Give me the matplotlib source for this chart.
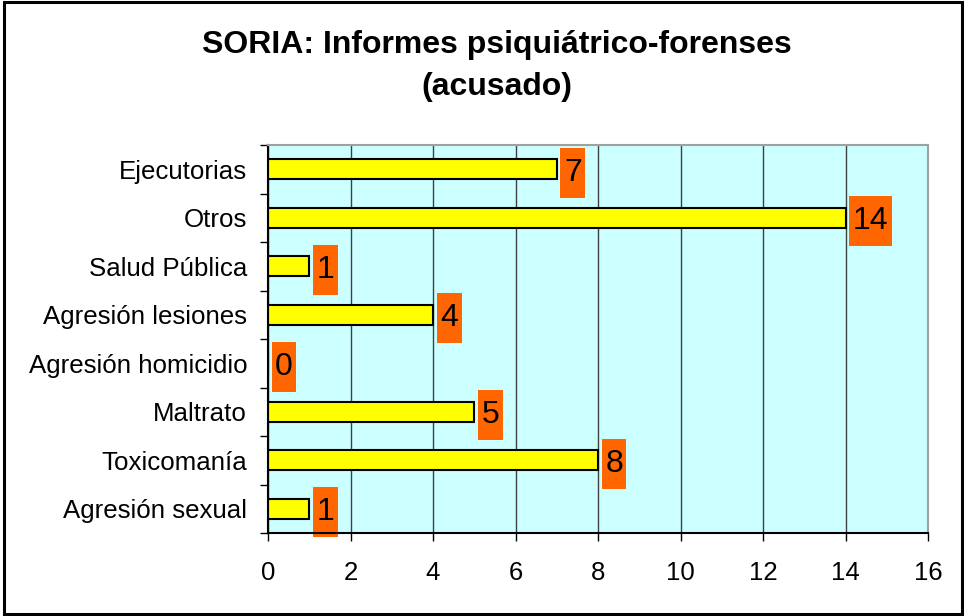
import matplotlib.pyplot as plt
from matplotlib.path import Path
from matplotlib.patches import Rectangle

# data (top to bottom as shown)
categories = ['Ejecutorias', 'Otros', 'Salud Pública', 'Agresión lesiones',
              'Agresión homicidio', 'Maltrato', 'Toxicomanía', 'Agresión sexual']
counts = [7, 14, 1, 4, 0, 5, 8, 1]
xticks = [0, 2, 4, 6, 8, 10, 12, 14, 16]

plt.rcParams['font.family'] = ['Liberation Sans', 'DejaVu Sans']

fig = plt.figure(figsize=(9.65, 6.16), dpi=100)
ax = fig.add_axes([268 / 965, 1 - 533 / 616, 660 / 965, 388 / 616])
ax.set_facecolor('#CCFFFF')

ypos = list(range(len(categories)))[::-1]
ax.barh(ypos, counts, height=0.41, color='#FFFF00', edgecolor='black',
        linewidth=1.5, zorder=3)


def tall_box(x0, y0, width, height, mutation_size):
    # orange label box: narrow sides, tall top/bottom
    px = 0.11 * mutation_size
    py = 0.32 * mutation_size
    return Path([(x0 - px, y0 - py), (x0 + width + px, y0 - py),
                 (x0 + width + px, y0 + height + py), (x0 - px, y0 + height + py),
                 (x0 - px, y0 - py)], closed=True)


for y, v in zip(ypos, counts):
    ax.annotate(str(v), xy=(v, y), xytext=(5.2, 0), textcoords='offset points',
                ha='left', va='center_baseline', fontsize=23, color='black', zorder=4,
                bbox=dict(boxstyle=tall_box, facecolor='#FF6600', edgecolor='none'))

ax.set_xlim(0, 16)
ax.set_ylim(-0.5, len(categories) - 0.5)
ax.set_xticks(xticks)
ax.tick_params(axis='x', direction='out', length=6, width=1, labelsize=18.5, pad=14)
ax.set_yticks(ypos)
ax.set_yticklabels(categories)
ax.tick_params(axis='y', which='major', length=0, labelsize=18.6, pad=15)
ax.set_yticks([i - 0.5 for i in range(len(categories) + 1)], minor=True)
ax.tick_params(axis='y', which='minor', direction='out', length=6, width=1)
ax.grid(axis='x', color='#404040', linewidth=1, zorder=1)

ax.spines['left'].set_color('black')
ax.spines['bottom'].set_color('black')
ax.spines['top'].set_color('#A0A0A0')
ax.spines['right'].set_color('#A0A0A0')
for s in ax.spines.values():
    s.set_linewidth(1.5)
    s.set_zorder(5)

fig.text(497 / 965, 1 - 66 / 616, 'SORIA: Informes psiquiátrico-forenses\n(acusado)',
         ha='center', va='center', fontsize=23, fontweight='bold', linespacing=1.5)

# outer frame
fig.patches.append(Rectangle((4 / 965, 2 / 616), 958 / 965, 612 / 616,
                             transform=fig.transFigure, fill=False,
                             edgecolor='black', linewidth=2.2))

fig.savefig('out.png', dpi=100)
